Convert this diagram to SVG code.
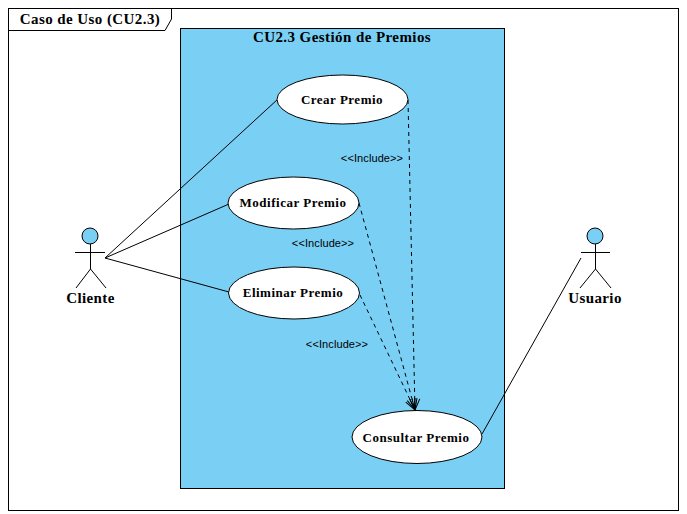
<svg xmlns="http://www.w3.org/2000/svg" width="687" height="514" viewBox="0 0 687 514">
<style>
.s{stroke:#000;stroke-width:1;fill:none}
.uc{fill:#fff;stroke:#000;stroke-width:1}
.t{font-family:"Liberation Serif",serif;font-weight:bold;fill:#000;text-anchor:middle}
.n{font-size:13px;letter-spacing:.5px}
.a{font-size:15px;letter-spacing:.4px}
.h{font-size:15px;letter-spacing:.42px}
.i{font-family:"Liberation Sans",sans-serif;font-size:11px;letter-spacing:.1px;fill:#000;text-anchor:middle}
.d{stroke:#000;stroke-width:1;fill:none;stroke-dasharray:4 4;marker-end:url(#open)}
</style>
<defs>
<marker id="open" viewBox="-12 -6 13 12" refX="0" refY="0" markerWidth="13" markerHeight="12" markerUnits="userSpaceOnUse" orient="auto"><path d="M-11,-5 L0,0 L-11,5 M-12,0 L0,0" fill="none" stroke="#000" stroke-width="1"/></marker>
</defs>
<rect width="687" height="514" fill="#fff"/>
<g id="frame">
<rect x="8.500" y="8.500" width="670" height="502" class="s"/>
<path d="M8.500,30.500 H165 L171.500,19 V8.500" class="s"/>
<text x="90" y="24" class="t h">Caso de Uso (CU2.3)</text>
</g>
<g id="system">
<rect x="180.500" y="28.500" width="324" height="460" fill="#7acff5" stroke="#000"/>
<text x="342" y="42" class="t h">CU2.3 Gestión de Premios</text>
</g>
<g id="connectors">
<path d="M105,258 L278,99 M105,258 L229,204 M105,258 L229,292 M581,258 L482,434" class="s"/>
<path d="M408,100 L415,410" class="d"/>
<path d="M359,203 L415,410" class="d"/>
<path d="M360,295 L415,410" class="d"/>
<text x="372" y="162" class="i">&lt;&lt;Include&gt;&gt;</text>
<text x="323" y="247" class="i">&lt;&lt;Include&gt;&gt;</text>
<text x="337" y="348" class="i">&lt;&lt;Include&gt;&gt;</text>
</g>
<g id="crear"><ellipse cx="342.500" cy="99.500" rx="65.500" ry="24.500" class="uc"/><text x="342" y="104" class="t n">Crear Premio</text></g>
<g id="modificar"><ellipse cx="293.500" cy="203" rx="65.500" ry="26" class="uc"/><text x="293" y="207" class="t n">Modificar Premio</text></g>
<g id="eliminar"><ellipse cx="294" cy="293" rx="65.500" ry="26" class="uc"/><text x="293" y="297" class="t n">Eliminar Premio</text></g>
<g id="consultar"><ellipse cx="417" cy="437" rx="65" ry="26.500" class="uc"/><text x="416" y="442" class="t n">Consultar Premio</text></g>
<g id="cliente">
<circle cx="90" cy="236" r="8" fill="#7acff5" stroke="#000"/>
<path d="M75,252.500 H105 M90.500,244 V269 L76,288 M90.500,269 L106,288" class="s"/>
<text x="90.500" y="303" class="t a">Cliente</text>
</g>
<g id="usuario">
<circle cx="595" cy="236" r="8" fill="#7acff5" stroke="#000"/>
<path d="M581,252.500 H610 M595.500,244 V269 L580,288 M595.500,269 L611,288" class="s"/>
<text x="595" y="303" class="t a">Usuario</text>
</g>
</svg>
